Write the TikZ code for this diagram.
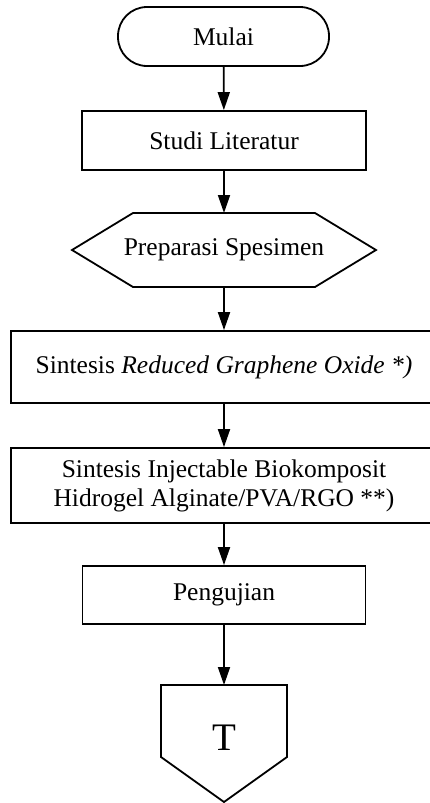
\documentclass[tikz,border=0pt]{standalone}
\usepackage{fontspec}
\setmainfont{Liberation Serif}
\usetikzlibrary{arrows.meta}
\begin{document}
\begin{tikzpicture}[x=1pt,y=-1pt,line width=1.8pt,
  every node/.style={font=\fontsize{25.5}{29}\selectfont, inner sep=0pt},
  term/.style={draw, rounded corners=29pt, minimum width=211pt, minimum height=59pt},
  procbox/.style={draw, minimum height=59pt},
  flow/.style={-{Triangle[length=18pt,width=12pt]}, line width=1.8pt}]
\useasboundingbox (0,0) rectangle (430,803);
% nodes
\node[term] (mulai) at (223.5,36.5) {Mulai};
\node[procbox, minimum width=284pt] (studi) at (224,140.5) {Studi Literatur};
\draw (72,250) -- (133,213) -- (315,213) -- (376,250) -- (315,287) -- (133,287) -- cycle;
\node (prep) at (224,250) {Preparasi Spesimen};
\coordinate (prepT) at (224,213);
\coordinate (prepB) at (224,287);
\node[procbox, minimum width=426pt, minimum height=72pt] (rgo) at (224,367) {Sintesis \textit{Reduced Graphene Oxide *)}};
\node[procbox, minimum width=426pt, minimum height=75pt, align=center] (inj) at (224,485.5) {Sintesis Injectable Biokomposit\\Hidrogel Alginate/PVA/RGO **)};
\node[procbox, minimum width=283pt, minimum height=58pt] (uji) at (224,595) {Pengujian};
\draw (161,685) -- (287,685) -- (287,757) -- (224,802) -- (161,757) -- cycle;
\coordinate (offT) at (224,685);
\node[font=\fontsize{39}{44}\selectfont] (T) at (224,738) {T};
% connectors
\draw[flow] (mulai) -- (studi);
\draw[flow] (studi) -- (prepT);
\draw[flow] (prepB) -- (rgo);
\draw[flow] (rgo) -- (inj);
\draw[flow] (inj) -- (uji);
\draw[flow] (uji) -- (offT);
\end{tikzpicture}
\end{document}
